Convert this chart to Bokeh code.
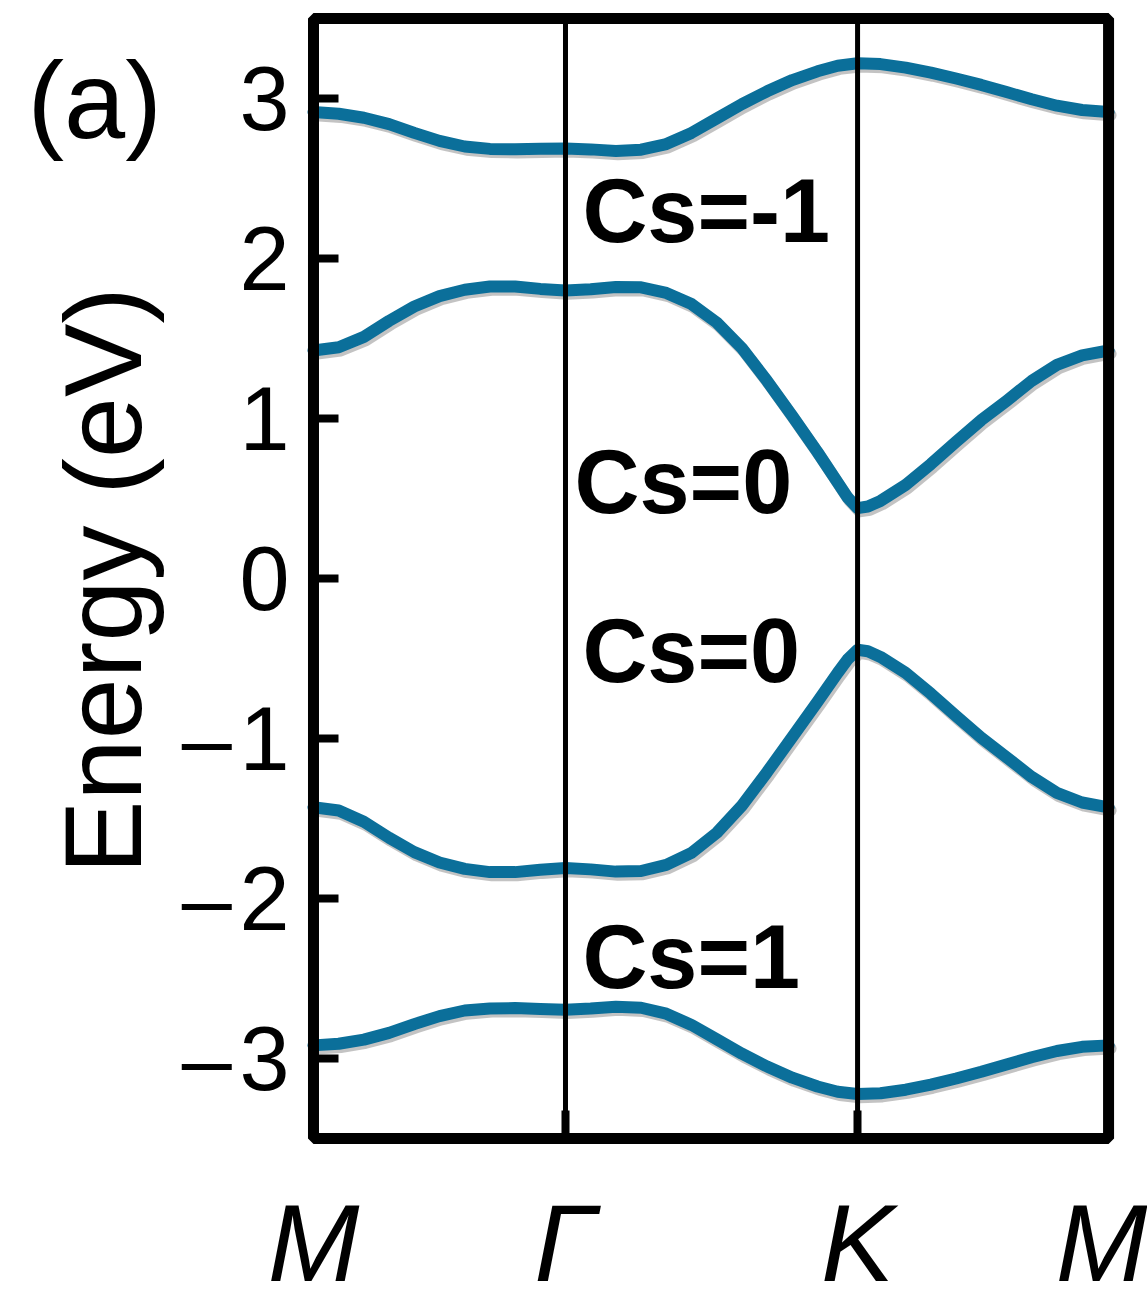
import math
from bokeh.plotting import figure
from bokeh.models import FixedTicker, Label, Range1d, LinearAxis, BoxAnnotation
from bokeh.embed import file_html
from bokeh.resources import INLINE

# ---- k-path (high-symmetry points) ----
KPOINT_NAMES = ["M", "Γ", "K", "M"]
KPOINT_POS = [0.0, 1.0, 2.159, 3.155]
E_MIN, E_MAX = -3.5, 3.5

# ---- band energies (eV) ----
K_OUTER = [0.0, 0.1, 0.2, 0.3, 0.4, 0.5, 0.6, 0.7, 0.8, 0.9, 1.0, 1.1, 1.2, 1.3, 1.4, 1.5,
           1.6, 1.7, 1.8, 1.9, 2.0, 2.08, 2.159, 2.25, 2.35, 2.45, 2.55, 2.65, 2.75, 2.85,
           2.95, 3.05, 3.155]
BAND_1 = [2.915, 2.905, 2.88, 2.84, 2.785, 2.735, 2.70, 2.685, 2.683, 2.686, 2.688, 2.682,
          2.672, 2.68, 2.715, 2.785, 2.875, 2.965, 3.045, 3.115, 3.17, 3.205, 3.22, 3.215,
          3.193, 3.162, 3.125, 3.085, 3.04, 2.995, 2.955, 2.928, 2.915]
BAND_4 = [-2.918, -2.908, -2.882, -2.84, -2.785, -2.735, -2.70, -2.687, -2.685, -2.69, -2.695,
          -2.688, -2.676, -2.683, -2.72, -2.79, -2.88, -2.97, -3.05, -3.12, -3.175, -3.208,
          -3.222, -3.217, -3.195, -3.163, -3.125, -3.083, -3.037, -2.992, -2.953, -2.927, -2.918]

K_INNER = [0.0, 0.1, 0.2, 0.3, 0.4, 0.5, 0.6, 0.7, 0.8, 0.9, 1.0, 1.1, 1.2, 1.3, 1.4, 1.5,
           1.6, 1.7, 1.8, 1.9, 2.0, 2.08, 2.12, 2.159, 2.2, 2.25, 2.35, 2.45, 2.55, 2.65,
           2.75, 2.85, 2.95, 3.05, 3.155]
BAND_2 = [1.425, 1.445, 1.51, 1.61, 1.70, 1.765, 1.805, 1.825, 1.825, 1.81, 1.80, 1.808,
          1.822, 1.82, 1.785, 1.715, 1.60, 1.44, 1.235, 1.015, 0.79, 0.60, 0.505, 0.44,
          0.45, 0.485, 0.585, 0.715, 0.855, 0.99, 1.11, 1.235, 1.335, 1.395, 1.425]
BAND_3 = [-1.43, -1.45, -1.52, -1.62, -1.71, -1.775, -1.815, -1.835, -1.835, -1.82, -1.81,
          -1.818, -1.832, -1.828, -1.79, -1.715, -1.59, -1.42, -1.21, -0.99, -0.77, -0.59,
          -0.505, -0.445, -0.455, -0.49, -0.59, -0.72, -0.86, -0.995, -1.117, -1.24, -1.34,
          -1.40, -1.43]

BANDS = [(K_OUTER, BAND_1), (K_INNER, BAND_2), (K_INNER, BAND_3), (K_OUTER, BAND_4)]

# ---- Chern-number annotations ----
CS_TEXT = ["Cs=-1", "Cs=0", "Cs=0", "Cs=1"]
CS_X = [1.067, 1.036, 1.067, 1.067]
CS_Y = [2.30, 0.606, -0.45, -2.3625]

Y_TICKS = [-3, -2, -1, 0, 1, 2, 3]
Y_LABELS = {-3: "\u2013\u200a3", -2: "\u2013\u200a2", -1: "\u2013\u200a1",
            0: "0", 1: "1", 2: "2", 3: "3"}
Y_TITLE = "Energy (eV)"
PANEL_TAG = "(a)"

FONT = "Liberation Sans"
BAND_COLOR = "#0b6f9a"

# the frame covers the whole canvas; the boxed panel is drawn at fixed axis locations
p = figure(width=1147, height=1303,
           x_range=Range1d(-1.242, 3.3095),
           y_range=Range1d(-4.53125, 3.6125),
           x_axis_type=None, y_axis_type=None,
           output_backend="svg", toolbar_location=None,
           min_border=0, min_border_left=0, min_border_right=0,
           min_border_top=0, min_border_bottom=0)
p.background_fill_color = "white"
p.border_fill_color = "white"
p.outline_line_color = None
p.grid.visible = False

# y axis (fixed on the left edge of the box)
ya = LinearAxis(fixed_location=KPOINT_POS[0])
ya.ticker = FixedTicker(ticks=Y_TICKS)
ya.major_label_overrides = Y_LABELS
ya.major_label_text_font = FONT
ya.major_label_text_font_size = "90px"
ya.major_label_text_color = "black"
ya.major_label_standoff = 24
ya.major_tick_in = 25
ya.major_tick_out = 0
ya.major_tick_line_width = 8
ya.major_tick_line_color = "black"
ya.minor_tick_line_color = None
ya.axis_line_color = None
p.add_layout(ya, "left")

# x axis (fixed on the bottom edge of the box)
xa = LinearAxis(fixed_location=E_MIN)
xa.ticker = FixedTicker(ticks=KPOINT_POS)
xa.major_label_overrides = {pos: name for pos, name in zip(KPOINT_POS, KPOINT_NAMES)}
xa.major_label_text_font = FONT
xa.major_label_text_font_style = "italic"
xa.major_label_text_font_size = "110px"
xa.major_label_text_color = "black"
xa.major_label_standoff = 42
xa.major_tick_in = 28
xa.major_tick_out = 0
xa.major_tick_line_width = 8
xa.major_tick_line_color = "black"
xa.minor_tick_line_color = None
xa.axis_line_color = None
p.add_layout(xa, "below")

# bands with a soft gray shadow
for kk, band in BANDS:
    p.line([k + 0.008 for k in kk], [e - 0.02 for e in band], line_color="#7a7a7a",
           line_alpha=0.45, line_width=12, line_join="round", line_cap="round")
    p.line(kk, band, line_color=BAND_COLOR, line_width=12, line_join="round", line_cap="round")

# vertical lines at Gamma and K
inner = KPOINT_POS[1:3]
p.segment(x0=inner, y0=[E_MIN] * len(inner), x1=inner, y1=[E_MAX] * len(inner),
          line_color="black", line_width=5)

# box
p.add_layout(BoxAnnotation(left=KPOINT_POS[0], right=KPOINT_POS[-1], bottom=E_MIN, top=E_MAX,
                           fill_color=None, fill_alpha=0, line_color="black",
                           line_width=11, line_alpha=1.0))

# Cs labels
for t, xv, yv in zip(CS_TEXT, CS_X, CS_Y):
    p.add_layout(Label(x=xv, y=yv, text=t, text_font=FONT, text_font_style="bold",
                       text_font_size="90px", text_color="black",
                       text_align="left", text_baseline="alphabetic"))

# y-axis title, centred on the boxed panel
p.add_layout(Label(x=-0.837, y=-0.0125, text=Y_TITLE, angle=math.pi / 2,
                   text_font=FONT, text_font_size="110px", text_color="black",
                   text_align="center", text_baseline="alphabetic"))

# panel tag
p.add_layout(Label(x=-1.135, y=2.995, text=PANEL_TAG, text_font=FONT, text_font_size="110px",
                   text_color="black", text_align="left", text_baseline="alphabetic"))

open("out.html", "w").write(file_html(p, INLINE))
